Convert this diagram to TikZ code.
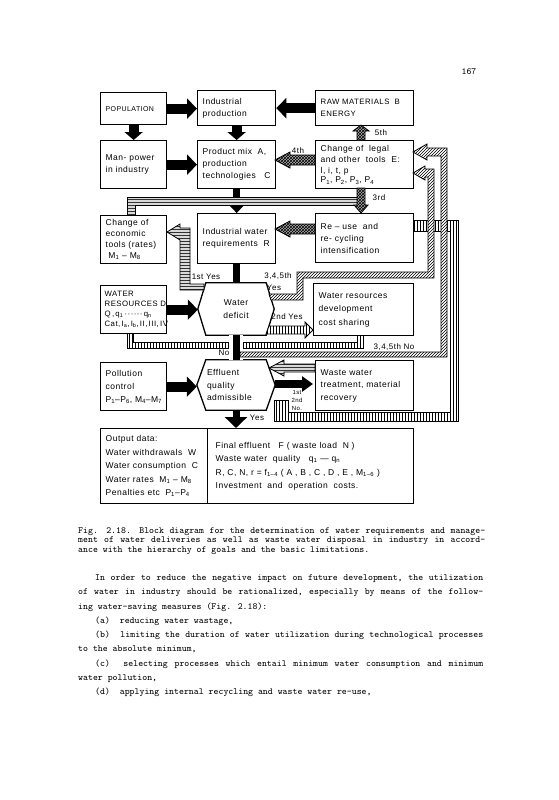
\documentclass[tikz,border=0pt]{standalone}
\usepackage{fontspec}
\newfontfamily\dfont[LetterSpace=6.0]{Liberation Sans}
\usetikzlibrary{arrows.meta,patterns,calc}
\newcommand\dsub[1]{\textsubscript{#1}}
\newcommand\jline[2]{{\spaceskip=0.525em plus 1em minus 0.1em\relax\makebox[#1][s]{#2}}}
\begin{document}
\begin{tikzpicture}[x=1pt,y=-1pt,
  box/.style={draw, line width=1.3pt, anchor=north west, inner xsep=5pt, inner ysep=0pt, align=left, font=\dfont\fontsize{8.5}{12}\selectfont},
  hexn/.style={inner sep=0pt, font=\dfont\fontsize{8.5}{12.5}\selectfont},
  lbl/.style={font=\dfont\fontsize{8}{9}\selectfont, inner sep=0pt},
  fat/.style={line width=10pt, -{Triangle[length=10pt,width=20pt]}},
  fatv/.style={line width=10pt, -{Triangle[length=8pt,width=18pt]}},
  xh/.style={preaction={fill=gray!65}, pattern=crosshatch, pattern color=black, draw, line width=.8pt, line join=miter},
  dg/.style={preaction={fill=white}, pattern=north east lines, pattern color=black, draw, line width=.8pt, line join=miter},
  vl/.style={preaction={fill=white}, pattern=vertical lines, pattern color=black, draw, line width=.8pt, line join=miter},
  hl/.style={preaction={fill=gray!30}, pattern=horizontal lines, pattern color=gray!40!black, draw, line width=.8pt, line join=miter},
  txt/.style={font=\ttfamily\fontsize{9.4}{11}\selectfont, inner sep=0pt, anchor=base west}
]
\useasboundingbox (0,0) rectangle (558,800);
\fill[white] (0,0) rectangle (558,800);

\node[font=\ttfamily\fontsize{9.4}{11}\selectfont, inner sep=0pt] (pg) at (469,72) {167};

% ---------- boxes ----------
\node[box, minimum width=66, minimum height=32, text width=56, font=\dfont\fontsize{7}{9}\selectfont] (pop) at (100,92) {POPULATION};
\node[box, minimum width=78, minimum height=35, text width=68] (ind) at (197,90) {Industrial\\production};
\node[box, minimum width=98, minimum height=35, text width=88, font=\dfont\fontsize{7.8}{12}\selectfont] (raw) at (315,90) {RAW MATERIALS\ \ B\\ENERGY};
\node[box, minimum width=66, minimum height=48, text width=56] (man) at (100,140) {Man- power\\in industry};
\node[box, minimum width=78, minimum height=48, text width=68] (prod) at (197,140) {Product mix\ \ A,\\production\\technologies\ \ \ C};
\node[box, minimum width=98, minimum height=48, text width=88, font=\dfont\fontsize{8.5}{11}\selectfont] (legal) at (315,140) {Change of\ \ legal\\and other\ \ tools\ \ E:\\l, i, t, p\\[-1.5pt]P\dsub{1}, P\dsub{2}, P\dsub{3}, P\dsub{4}};
\node[box, minimum width=66, minimum height=48, text width=56, font=\dfont\fontsize{8.5}{11}\selectfont] (econ) at (100,215) {Change of\\economic\\tools (rates)\\\ M\dsub{1} – M\dsub{8}};
\node[box, minimum width=78, minimum height=50, text width=68] (iwr) at (197,213) {Industrial water\\requirements\ \ R};
\node[box, minimum width=98, minimum height=49, text width=88] (reuse) at (315,213) {Re – use\ \ and\\re- cycling\\intensification};
\node[box, minimum width=66, minimum height=48, inner xsep=4pt, text width=58, font=\dfont\fontsize{7.8}{10}\selectfont] (wres) at (100,285) {WATER\\RESOURCES~D\\Q\,,\,q\dsub{1}\,······\,q\dsub{n}\\Cat,\,I\dsub{a},\,I\dsub{b},\,II,\,III,\,IV};
\node[box, minimum width=100, minimum height=52, text width=90, font=\dfont\fontsize{8.5}{13.5}\selectfont] (wrd) at (313,283) {Water resources\\development\\cost sharing};
\node[box, minimum width=66, minimum height=48, text width=56, font=\dfont\fontsize{8.5}{13}\selectfont] (poll) at (100,362) {Pollution\\control\\P\dsub{1}–P\dsub{6},~M\dsub{4}–M\dsub{7}};
\node[box, minimum width=98, minimum height=50, text width=88, font=\dfont\fontsize{8.5}{12.5}\selectfont] (wwt) at (315,360) {Waste water\\treatment, material\\recovery};
\node[box, minimum width=107, minimum height=75, text width=97, font=\dfont\fontsize{8.5}{13.5}\selectfont] (outL) at (100,428) {Output data:\\Water withdrawals\ \ W\\Water consumption\ \ C\\Water rates\ \ M\dsub{1} – M\dsub{8}\\Penalties etc\ \ P\dsub{1}–P\dsub{4}};
\node[box, minimum width=206, minimum height=75, inner xsep=8pt, text width=190, font=\dfont\fontsize{8.5}{13.5}\selectfont] (outR) at (207,428) {Final effluent\ \ \ F ( waste load\ \ N )\\Waste water\ \ quality\ \ \ q\dsub{1} — q\dsub{n}\\R, C, N, r = f\dsub{1–4} ( A , B , C , D , E , M\dsub{1–6} )\\Investment\ \ and\ \ operation\ \ costs.};

% ---------- hexagons ----------
\node[hexn, minimum width=76, minimum height=52, align=center] (def) at (236,309) {Water\\deficit};
\draw[line width=1.3pt] (def.west) -- ([xshift=8pt]def.north west) -- ([xshift=-8pt]def.north east) -- (def.east) -- ([xshift=-8pt]def.south east) -- ([xshift=8pt]def.south west) -- cycle;
\node[hexn, minimum width=78, minimum height=50, inner xsep=10pt, text width=58, align=left] (eff) at (236,385) {Effluent\\quality\\admissible};
\draw[line width=1.3pt] (eff.west) -- ([xshift=9pt]eff.north west) -- ([xshift=-9pt]eff.north east) -- (eff.east) -- ([xshift=-9pt]eff.south east) -- ([xshift=9pt]eff.south west) -- cycle;

% ---------- black arrows ----------
\draw[fat] (pop.east) -- (pop.east -| ind.west);
\draw[fat] (raw.west) -- (raw.west -| ind.east);
\draw[fatv] (pop.south) -- (pop.south |- man.north);
\draw[fatv] (ind.south) -- (prod.north);
\draw[fat] (man.east) -- (man.east -| prod.west);
\draw[fat] (wres.east) -- (wres.east -| def.west);
\draw[fat] (poll.east) -- (poll.east -| eff.west);
\draw[line width=7pt, -{Triangle[length=7pt,width=13pt]}] (prod.south) -- (iwr.north);
\draw[line width=7pt] (iwr.south) -- (iwr.south |- def.north);
\draw[line width=7pt, -{Triangle[length=11pt,width=22pt]}] (eff.south) -- (eff.south |- outL.north);
\draw[line width=8pt, -{Triangle[length=11pt,width=15pt]}] ([yshift=1pt]eff.east) -- ([yshift=1pt,xshift=-2pt]eff.east -| wwt.west);

% ---------- hatched connectors ----------
\path[vl] (274,400) -- (288,400) -- (288,412) -- (450,412) -- (450,231) -- (413,231) -- (413,220) -- (458,220) -- (458,421) -- (274,421) -- cycle;
\path[vl] (357,335) -- (363,335) -- (363,348) -- (127,348) -- (127,333) -- (133,333) -- (133,342) -- (357,342) -- cycle;
\draw[white, line width=14pt] (def.south) -- (def.south |- eff.north);
\draw[line width=7pt] (def.south) -- (def.south |- eff.north);
\path[dg] (240,352) -- (441,352) -- (441,156) -- (427,156) -- (427,160) -- (413,152) -- (427,144) -- (427,148) -- (447,148) -- (447,357) -- (240,357) -- cycle;
\path[dg] (269,294) -- (297,294) -- (297,272) -- (428,272) -- (428,177) -- (425,177) -- (425,180) -- (413,173) -- (425,166) -- (425,169) -- (434,169) -- (434,278) -- (303,278) -- (303,300) -- (271,300) -- cycle;
\path[hl] (167,232) -- (180,224) -- (180,228) -- (190,228) -- (190,284) -- (204,284) -- (204,290) -- (180,290) -- (180,240) -- cycle;
\path[vl] (269,326) -- (305,326) -- (305,322) -- (313,330) -- (305,338) -- (305,334) -- (266,334) -- cycle;
\path[hl] (127,215) -- (127,197) -- (362,197) -- (362,205) -- (135,205) -- (135,215) -- cycle;
\path[xh] (357,188) -- (365,188) -- (365,205) -- (368,205) -- (361,213) -- (354,205) -- (357,205) -- cycle;
\path[xh] (275,160) -- (290,152) -- (290,155) -- (315,155) -- (315,165) -- (290,165) -- (290,168) -- cycle;
\path[xh] (275,229) -- (290,221) -- (290,224) -- (315,224) -- (315,234) -- (290,234) -- (290,237) -- cycle;
\path[xh] (357,140) -- (357,131) -- (353,131) -- (361,125) -- (369,131) -- (365,131) -- (365,140) -- cycle;
\path[hl] (269,368) -- (284,360) -- (284,364) -- (315,364) -- (315,372) -- (284,372) -- (284,376) -- cycle;

% ---------- labels ----------
\node[lbl] (l5) at (381,133) {5th};
\node[lbl] (l4) at (298,151) {4th};
\node[lbl] (l3) at (379,198) {3rd};
\node[lbl] (l1y) at (206,277) {1st Yes};
\node[lbl] (l345) at (278,276) {3,4,5th};
\node[lbl] (l345y) at (274,288) {Yes};
\node[lbl] (l2y) at (287,317) {2nd Yes};
\node[lbl] (lno) at (224,353) {No};
\node[lbl] (l345n) at (394,347) {3,4,5th No};
\node[lbl, align=center, font=\dfont\fontsize{6}{8}\selectfont] (l12n) at (297,400) {1st\\2nd\\No.};
\node[lbl] (lyes) at (257,418) {Yes};

% ---------- caption and body text ----------
\node[txt] (c1) at (78,533) {\jline{407pt}{Fig. 2.18. Block diagram for the determination of water requirements and manage-}};
\node[txt] (c2) at (78,542.5) {\jline{407pt}{ment of water deliveries as well as waste water disposal in industry in accord-}};
\node[txt] (c3) at (78,552) {ance with the hierarchy of goals and the basic limitations.};

\node[txt] (b1) at (95,580.5) {\jline{388pt}{In order to reduce the negative impact on future development, the utilization}};
\node[txt] (b2) at (78,594.75) {\jline{405pt}{of water in industry should be rationalized, especially by means of the follow-}};
\node[txt] (b3) at (78,609) {ing water-saving measures (Fig. 2.18):};
\node[txt] (b4) at (95,623.25) {(a)\ \ reducing water wastage,};
\node[txt] (b5) at (95,637.5) {\jline{388pt}{(b)\ \ limiting the duration of water utilization during technological processes}};
\node[txt] (b6) at (78,651.75) {to the absolute minimum,};
\node[txt] (b7) at (95,666) {\jline{388pt}{(c)\ \ selecting processes which entail minimum water consumption and minimum}};
\node[txt] (b8) at (78,680.25) {water pollution,};
\node[txt] (b9) at (95,694.5) {(d)\ \ applying internal recycling and waste water re-use,};
\end{tikzpicture}
\end{document}
